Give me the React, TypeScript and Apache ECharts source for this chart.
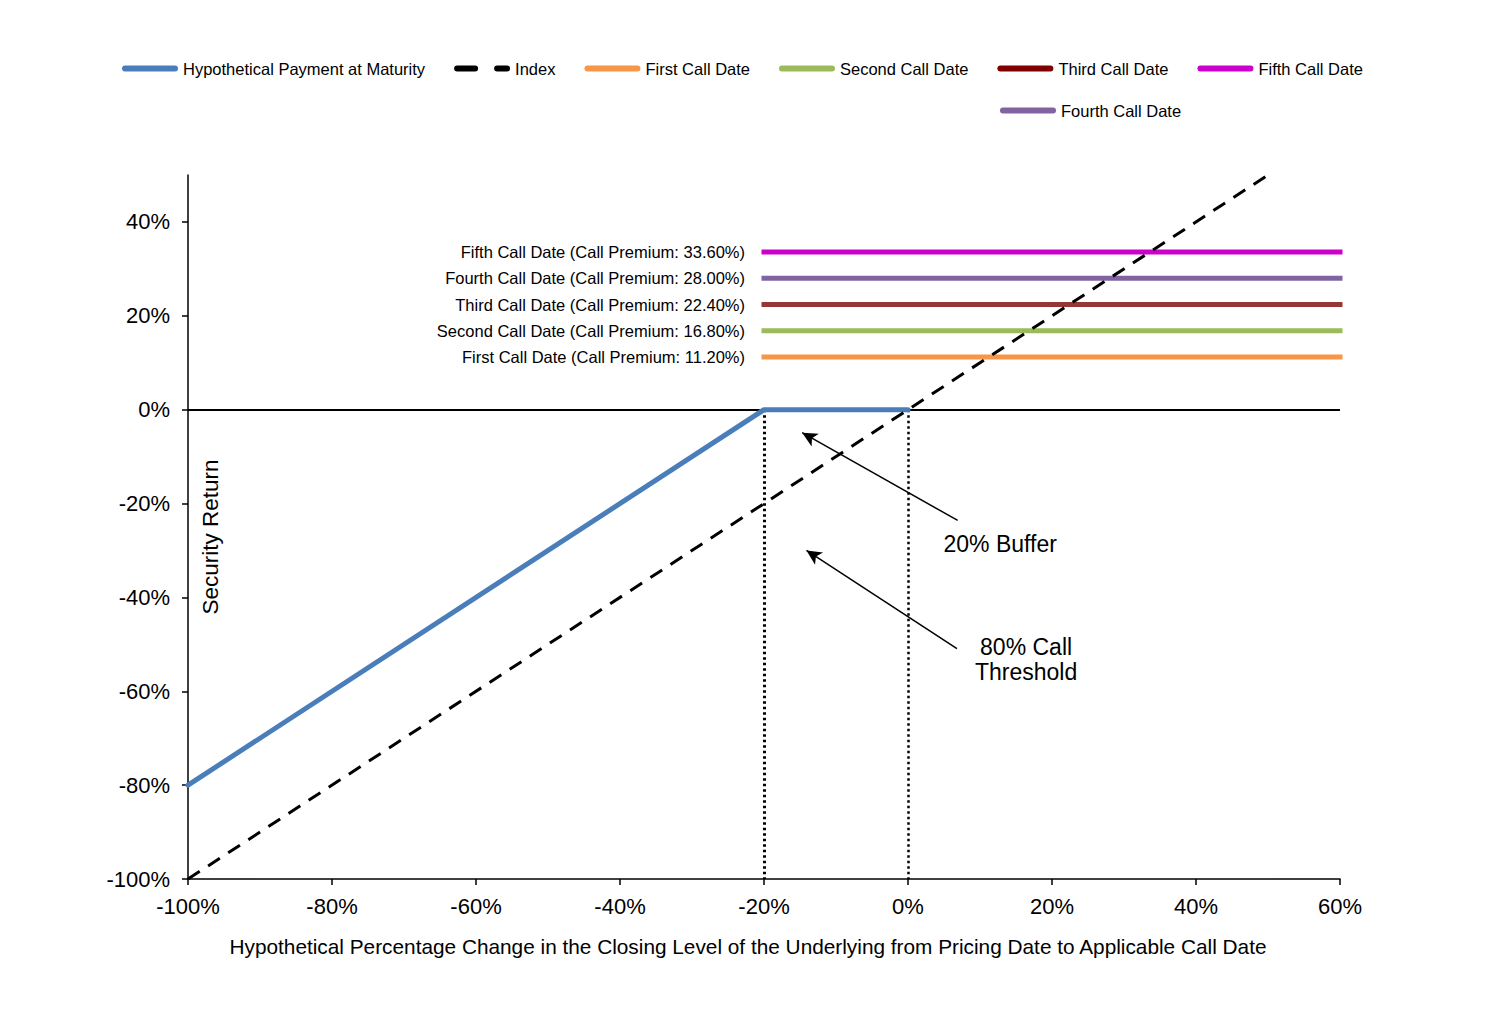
import React, { useEffect, useRef } from "react";
import * as echarts from "echarts";

const FONT = '"Liberation Sans", Arial, Helvetica, sans-serif';

// ---- data ----
const paymentX = [-100, -20, 0];
const paymentY = [-80, 0, 0];
const indexX = [-100, 50];
const indexY = [-100, 50];
const callNames = ["First Call Date", "Second Call Date", "Third Call Date", "Fourth Call Date", "Fifth Call Date"];
const callPremiums = [11.2, 16.8, 22.4, 28.0, 33.6];
const callColors = ["#F79646", "#9BBB59", "#953735", "#8064A2", "#CC00CC"];
const callRange = [-20, 60];
const thresholdXs = [-20, 0];
const yTicks = [-100, -80, -60, -40, -20, 0, 20, 40];

const legendRow1 = ["Hypothetical Payment at Maturity", "Index", "First Call Date", "Second Call Date", "Third Call Date", "Fifth Call Date"];
const legendRow2 = ["Fourth Call Date"];

const ROUND_BAR = "path://M3,0 H53 A3,3 0 0 1 53,6 H3 A3,3 0 0 1 3,0 Z";
const DASH_BAR =
  "path://M3,0 H21 A3,3 0 0 1 21,6 H3 A3,3 0 0 1 3,0 Z M43,0 H53 A3,3 0 0 1 53,6 H43 A3,3 0 0 1 43,0 Z";

function legendItem(name: string) {
  if (name === "Index") return { name, icon: DASH_BAR };
  if (name === "Third Call Date") return { name, icon: ROUND_BAR, itemStyle: { color: "#7F0000" } };
  return { name, icon: ROUND_BAR };
}

function buildOption(): any {
  const legendCommon = {
    itemWidth: 56,
    itemHeight: 6,
    itemGap: 29,
    orient: "horizontal",
    textStyle: { fontFamily: FONT, fontSize: 16.5, color: "#000" },
    selectedMode: false,
  };

  const callSeries = callNames.map((name, i) => ({
    name,
    type: "line",
    data: callRange.map((x) => [x, callPremiums[i]]),
    symbol: "none",
    clip: false,
    z: 3,
    lineStyle: { color: callColors[i], width: 5, cap: "square" },
    itemStyle: { color: callColors[i] },
    markPoint: {
      silent: true,
      symbol: "circle",
      symbolSize: 0,
      data: [{ coord: [callRange[0], callPremiums[i]], name }],
      label: {
        show: true,
        position: "left",
        distance: 19,
        formatter: `${name} (Call Premium: ${callPremiums[i].toFixed(2)}%)`,
        color: "#000",
        fontFamily: FONT,
        fontSize: 16.5,
      },
    },
  }));

  return {
    animation: false,
    backgroundColor: "#fff",
    tooltip: { show: false },
    legend: [
      { ...legendCommon, left: 117, top: 55, data: legendRow1.map(legendItem) },
      { ...legendCommon, left: 995, top: 97, data: legendRow2.map(legendItem) },
    ],
    grid: { left: 188, right: 148, top: 175, bottom: 144, containLabel: false, outerBoundsMode: "none" },
    xAxis: {
      type: "value",
      min: -100,
      max: 60,
      interval: 20,
      axisLine: { show: true, onZero: false, lineStyle: { color: "#000", width: 1.5 } },
      axisTick: { show: true, inside: false, length: 6, lineStyle: { color: "#000", width: 1.5 } },
      axisLabel: { formatter: (v: number) => `${v}%`, fontFamily: FONT, fontSize: 22, color: "#000", margin: 16 },
      splitLine: { show: false },
    },
    yAxis: {
      type: "value",
      min: -100,
      max: 50,
      interval: 20,
      axisLine: { show: true, onZero: false, lineStyle: { color: "#000", width: 1.5 } },
      axisTick: { show: true, inside: false, length: 6, lineStyle: { color: "#000", width: 1.5 }, customValues: yTicks },
      axisLabel: {
        formatter: (v: number) => `${v}%`,
        fontFamily: FONT,
        fontSize: 22,
        color: "#000",
        margin: 18,
        customValues: yTicks,
      },
      splitLine: { show: false },
    },
    graphic: [
      {
        type: "text",
        x: 210,
        y: 537,
        rotation: Math.PI / 2,
        style: {
          text: "Security Return",
          fontFamily: FONT,
          fontSize: 22.5,
          fill: "#000",
          align: "center",
          verticalAlign: "middle",
        },
      },
      {
        type: "text",
        x: 748,
        y: 946,
        style: {
          text: "Hypothetical Percentage Change in the Closing Level of the Underlying from Pricing Date to Applicable Call Date",
          fontFamily: FONT,
          fontSize: 20.8,
          fill: "#000",
          align: "center",
          verticalAlign: "middle",
        },
      },
    ],
    series: [
      {
        name: "annotations",
        type: "line",
        data: [],
        z: 1,
        silent: true,
        markLine: {
          silent: true,
          symbol: "none",
          label: { show: false },
          data: [
            { yAxis: 0, lineStyle: { color: "#000", width: 2, type: "solid" } },
            ...thresholdXs.map((x, i) => [
              { coord: [x, 0], lineStyle: { color: "#000", width: i === 0 ? 3 : 2.5, type: [2.5, 3] } },
              { coord: [x, -100] },
            ]),
            [
              { coord: [6.9, -23.6], symbol: "none", lineStyle: { color: "#000", width: 1.5, type: "solid" } },
              { coord: [-14.7, -4.9], symbol: "arrow", symbolSize: [11, 15] },
            ],
            [
              { coord: [6.8, -50.9], symbol: "none", lineStyle: { color: "#000", width: 1.5, type: "solid" } },
              { coord: [-14.1, -30.0], symbol: "arrow", symbolSize: [11, 15] },
            ],
          ],
        },
        markPoint: {
          silent: true,
          symbol: "circle",
          symbolSize: 0,
          label: {
            show: true,
            position: "inside",
            formatter: "{b}",
            color: "#000",
            fontFamily: FONT,
            fontSize: 23,
            lineHeight: 25,
            align: "center",
          },
          data: [
            { name: "20% Buffer", coord: [12.8, -28.7] },
            { name: "80% Call\nThreshold", coord: [16.4, -53.2] },
          ],
        },
      },
      ...callSeries,
      {
        name: "Hypothetical Payment at Maturity",
        type: "line",
        data: paymentX.map((x, i) => [x, paymentY[i]]),
        symbol: "none",
        z: 5,
        clip: false,
        lineStyle: { color: "#4A7EBB", width: 5, cap: "round", join: "round" },
        itemStyle: { color: "#4A7EBB" },
      },
      {
        name: "Index",
        type: "line",
        data: indexX.map((x, i) => [x, indexY[i]]),
        symbol: "none",
        z: 6,
        clip: false,
        lineStyle: { color: "#000", width: 3, type: [14, 10] },
        itemStyle: { color: "#000" },
      },
    ],
  };
}

export default function App() {
  const ref = useRef<HTMLDivElement>(null);
  useEffect(() => {
    document.body.style.margin = "0";
    const chart = echarts.init(ref.current!, null, { renderer: "svg" });
    chart.setOption(buildOption());
    return () => chart.dispose();
  }, []);
  return <div ref={ref} style={{ width: 1488, height: 1023, background: "#fff" }} />;
}
